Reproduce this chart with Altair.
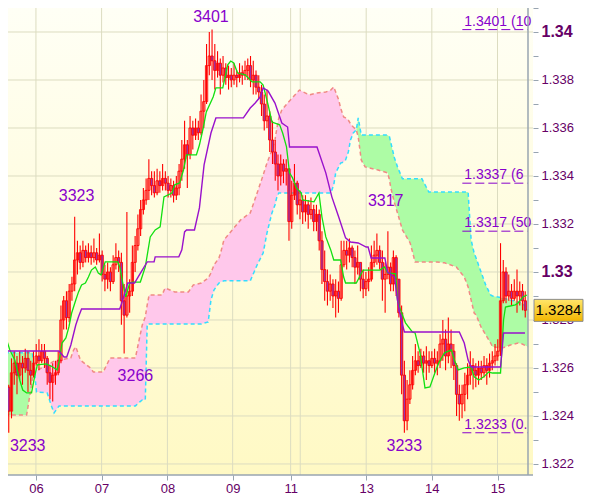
import altair as alt
import pandas as pd

# ---------------- hourly OHLC bars (bar index 0..188) ----------------
first_open = 1.3252
close = [
    1.3242, 1.3258, 1.3262, 1.3257, 1.3262, 1.3260, 1.3264, 1.3259, 1.3257, 1.3262,
    1.3265, 1.3263, 1.3267, 1.3264, 1.3258, 1.3254, 1.3257, 1.3258, 1.3263, 1.3280,
    1.3288, 1.3281, 1.3292, 1.3295, 1.3305, 1.3308, 1.3304, 1.3309, 1.3306, 1.3308,
    1.3306, 1.3308, 1.3305, 1.3307, 1.3299, 1.3297, 1.3300, 1.3296, 1.3303, 1.3306,
    1.3304, 1.3288, 1.3282, 1.3290, 1.3292, 1.3304, 1.3311, 1.3318, 1.3326, 1.3330,
    1.3334, 1.3339, 1.3336, 1.3333, 1.3338, 1.3336, 1.3339, 1.3337, 1.3334, 1.3336,
    1.3332, 1.3335, 1.3342, 1.3347, 1.3353, 1.3349, 1.3360, 1.3357, 1.3360, 1.3358,
    1.3367, 1.3371, 1.3386, 1.3390, 1.3388, 1.3384, 1.3387, 1.3382, 1.3385, 1.3381,
    1.3382, 1.3380, 1.3382, 1.3381, 1.3383, 1.3382, 1.3384, 1.3386, 1.3380, 1.3382,
    1.3377, 1.3375, 1.3370, 1.3363, 1.3365, 1.3355, 1.3350, 1.3345, 1.3340, 1.3345,
    1.3342, 1.3343, 1.3321, 1.3332, 1.3337, 1.3328, 1.3330, 1.3325, 1.3328, 1.3324,
    1.3326, 1.3321, 1.3324, 1.3313, 1.3301, 1.3296, 1.3292, 1.3295, 1.3290, 1.3292,
    1.3289, 1.3303, 1.3309, 1.3307, 1.3310, 1.3306, 1.3302, 1.3304, 1.3297, 1.3293,
    1.3296, 1.3297, 1.3304, 1.3307, 1.3309, 1.3304, 1.3297, 1.3299, 1.3302, 1.3295,
    1.3306, 1.3297, 1.3283, 1.3257, 1.3238, 1.3247, 1.3253, 1.3259, 1.3263, 1.3261,
    1.3265, 1.3262, 1.3263, 1.3261, 1.3264, 1.3262, 1.3263, 1.3270, 1.3272, 1.3265,
    1.3270, 1.3267, 1.3261, 1.3249, 1.3245, 1.3249, 1.3253, 1.3257, 1.3261, 1.3259,
    1.3257, 1.3260, 1.3258, 1.3261, 1.3259, 1.3262, 1.3263, 1.3265, 1.3267, 1.3288,
    1.3300, 1.3290, 1.3292, 1.3289, 1.3292, 1.3290, 1.3292, 1.3288, 1.3284,
]
high = [
    1.3253, 1.3264, 1.3267, 1.3265, 1.3267, 1.3265, 1.3268, 1.3267, 1.3263, 1.3267,
    1.3270, 1.3272, 1.3270, 1.3270, 1.3265, 1.3261, 1.3262, 1.3263, 1.3267, 1.3286,
    1.3290, 1.3292, 1.3295, 1.3298, 1.3323, 1.3313, 1.3311, 1.3313, 1.3311, 1.3312,
    1.3311, 1.3314, 1.3310, 1.3316, 1.3309, 1.3303, 1.3304, 1.3302, 1.3307, 1.3312,
    1.3309, 1.3308, 1.3295, 1.3325, 1.3297, 1.3311, 1.3315, 1.3324, 1.3330, 1.3335,
    1.3339, 1.3347, 1.3342, 1.3342, 1.3343, 1.3342, 1.3345, 1.3342, 1.3340, 1.3339,
    1.3338, 1.3340, 1.3345, 1.3355, 1.3363, 1.3355, 1.3365, 1.3363, 1.3364, 1.3363,
    1.3374, 1.3380, 1.3395, 1.3400, 1.3401, 1.3395, 1.3392, 1.3389, 1.3390, 1.3387,
    1.3386, 1.3385, 1.3387, 1.3384, 1.3387, 1.3386, 1.3388, 1.3389, 1.3390, 1.3388,
    1.3384, 1.3382, 1.3378, 1.3374, 1.3376, 1.3367, 1.3363, 1.3355, 1.3349, 1.3349,
    1.3347, 1.3347, 1.3342, 1.3338, 1.3345, 1.3338, 1.3334, 1.3332, 1.3332, 1.3330,
    1.3331, 1.3328, 1.3328, 1.3326, 1.3317, 1.3309, 1.3301, 1.3299, 1.3297, 1.3297,
    1.3296, 1.3313, 1.3313, 1.3313, 1.3314, 1.3311, 1.3309, 1.3311, 1.3304, 1.3301,
    1.3300, 1.3302, 1.3311, 1.3313, 1.3316, 1.3311, 1.3309, 1.3304, 1.3317, 1.3304,
    1.3309, 1.3307, 1.3295, 1.3286, 1.3263, 1.3255, 1.3259, 1.3265, 1.3270, 1.3267,
    1.3268, 1.3267, 1.3269, 1.3267, 1.3267, 1.3268, 1.3267, 1.3274, 1.3280, 1.3276,
    1.3281, 1.3276, 1.3270, 1.3262, 1.3253, 1.3253, 1.3258, 1.3262, 1.3267, 1.3264,
    1.3262, 1.3263, 1.3263, 1.3265, 1.3264, 1.3266, 1.3267, 1.3270, 1.3272, 1.3312,
    1.3305, 1.3302, 1.3299, 1.3295, 1.3297, 1.3301, 1.3296, 1.3295, 1.3292,
]
low = [
    1.3233, 1.3239, 1.3253, 1.3249, 1.3255, 1.3253, 1.3258, 1.3250, 1.3253, 1.3256,
    1.3261, 1.3259, 1.3262, 1.3260, 1.3253, 1.3247, 1.3246, 1.3253, 1.3257, 1.3262,
    1.3276, 1.3276, 1.3279, 1.3288, 1.3292, 1.3299, 1.3301, 1.3302, 1.3304, 1.3304,
    1.3303, 1.3304, 1.3303, 1.3304, 1.3296, 1.3292, 1.3293, 1.3292, 1.3295, 1.3301,
    1.3300, 1.3278, 1.3266, 1.3281, 1.3283, 1.3290, 1.3300, 1.3309, 1.3315, 1.3324,
    1.3328, 1.3330, 1.3332, 1.3331, 1.3332, 1.3333, 1.3334, 1.3334, 1.3331, 1.3331,
    1.3329, 1.3330, 1.3332, 1.3338, 1.3343, 1.3335, 1.3347, 1.3351, 1.3355, 1.3355,
    1.3357, 1.3360, 1.3370, 1.3382, 1.3380, 1.3376, 1.3381, 1.3374, 1.3379, 1.3378,
    1.3376, 1.3377, 1.3378, 1.3377, 1.3379, 1.3378, 1.3380, 1.3380, 1.3377, 1.3374,
    1.3374, 1.3372, 1.3365, 1.3359, 1.3360, 1.3350, 1.3345, 1.3338, 1.3334, 1.3336,
    1.3337, 1.3336, 1.3313, 1.3318, 1.3330, 1.3324, 1.3322, 1.3320, 1.3321, 1.3318,
    1.3322, 1.3317, 1.3317, 1.3309, 1.3295, 1.3288, 1.3286, 1.3288, 1.3285, 1.3281,
    1.3283, 1.3288, 1.3302, 1.3301, 1.3304, 1.3302, 1.3295, 1.3299, 1.3292, 1.3289,
    1.3290, 1.3292, 1.3296, 1.3302, 1.3303, 1.3301, 1.3288, 1.3283, 1.3297, 1.3292,
    1.3292, 1.3290, 1.3281, 1.3249, 1.3233, 1.3234, 1.3245, 1.3251, 1.3257, 1.3258,
    1.3260, 1.3258, 1.3255, 1.3258, 1.3260, 1.3258, 1.3257, 1.3260, 1.3263, 1.3259,
    1.3262, 1.3260, 1.3255, 1.3240, 1.3238, 1.3239, 1.3242, 1.3247, 1.3253, 1.3251,
    1.3252, 1.3253, 1.3255, 1.3256, 1.3253, 1.3256, 1.3259, 1.3261, 1.3263, 1.3265,
    1.3287, 1.3287, 1.3288, 1.3286, 1.3288, 1.3283, 1.3286, 1.3284, 1.3281,
]

# ---------------- Tenkan-sen (green) ----------------
tenkan_x = [-1.0, 0.4, 2.2, 4.0, 5.1, 6.5, 8.3, 9.4, 10.4, 13.6,
            15.4, 17.6, 18.3, 19.4, 20.8, 21.9, 22.9, 24.4, 25.4, 26.5,
            27.9, 29.0, 30.1, 31.5, 32.6, 33.6, 35.1, 39.7, 40.4, 41.5,
            42.6, 44.0, 45.1, 47.9, 49.7, 51.5, 53.3, 55.1, 56.5, 59.4,
            60.4, 62.2, 63.6, 64.7, 68.3, 69.4, 70.8, 71.9, 74.4, 75.4,
            77.9, 79.7, 80.8, 81.9, 83.3, 86.1, 87.2, 88.6, 91.5, 92.6,
            94.4, 95.8, 98.6, 99.7, 101.1, 102.2, 103.3, 104.7, 106.5, 106.9,
            111.1, 112.9, 114.0, 115.4, 117.2, 118.3, 120.8, 121.9, 122.6, 126.5,
            129.0, 135.1, 136.8, 137.9, 140.8, 141.5, 142.6, 144.4, 146.9, 147.9,
            149.7, 151.5, 153.3, 155.1, 156.5, 158.6, 161.1, 162.2, 163.6, 165.8,
            168.3, 169.4, 171.1, 172.9, 174.7, 176.1, 179.0, 180.1, 180.8, 184.4,
            185.4, 187.2, 188.6]
tenkan_y = [1.32725, 1.32675, 1.32633, 1.32550, 1.32508, 1.32496, 1.32496, 1.32563, 1.32613, 1.32617,
            1.32608, 1.32592, 1.32625, 1.32704, 1.32725, 1.32771, 1.32829, 1.32883, 1.32917, 1.32946,
            1.32954, 1.32979, 1.33008, 1.33021, 1.32996, 1.32988, 1.33042, 1.33042, 1.33021, 1.32954,
            1.32896, 1.32954, 1.32958, 1.32958, 1.33021, 1.33146, 1.33175, 1.33188, 1.33313, 1.33329,
            1.33363, 1.33371, 1.33425, 1.33488, 1.33488, 1.33529, 1.33600, 1.33667, 1.33729, 1.33767,
            1.33767, 1.33863, 1.33879, 1.33871, 1.33829, 1.33821, 1.33808, 1.33792, 1.33792, 1.33779,
            1.33696, 1.33625, 1.33613, 1.33579, 1.33521, 1.33413, 1.33392, 1.33350, 1.33329, 1.33300,
            1.33292, 1.33329, 1.33229, 1.33146, 1.33092, 1.33050, 1.33050, 1.32979, 1.32954, 1.32954,
            1.33008, 1.33008, 1.33021, 1.32996, 1.32992, 1.32883, 1.32842, 1.32788, 1.32750, 1.32746,
            1.32663, 1.32517, 1.32521, 1.32579, 1.32621, 1.32663, 1.32675, 1.32633, 1.32592, 1.32600,
            1.32604, 1.32563, 1.32550, 1.32563, 1.32583, 1.32579, 1.32579, 1.32800, 1.32854, 1.32863,
            1.32871, 1.32896, 1.32904]

# ---------------- Kijun-sen (purple) ----------------
kijun_x = [-1.0, 18.3, 20.1, 21.1, 22.6, 24.4, 25.4, 26.5,
           40.4, 41.5, 43.3, 45.8, 46.9, 48.6, 50.4, 52.9, 53.3,
           61.9, 63.0, 64.0, 64.7, 67.6, 69.4, 71.1, 73.6, 75.4,
           85.4, 87.9, 89.7, 91.5, 92.6, 94.4, 96.9, 99.4, 101.5, 102.2,
           112.2, 115.4, 117.6, 120.1, 122.6, 124.4, 127.2, 130.1, 130.8, 131.9,
           136.9, 137.9, 140.4, 141.5, 142.6, 144.0,
           164.0, 165.8, 167.2, 168.3, 179.0, 180.1, 187.9]
kijun_y = [1.32671, 1.32671, 1.32646, 1.32646, 1.32696, 1.32779, 1.32813, 1.32846,
           1.32846, 1.32883, 1.32954, 1.32954, 1.32975, 1.33008, 1.33042, 1.33042, 1.33063,
           1.33063, 1.33092, 1.33167, 1.33175, 1.33175, 1.33267, 1.33446, 1.33579, 1.33642,
           1.33642, 1.33683, 1.33704, 1.33729, 1.33767, 1.33754, 1.33704, 1.33621, 1.33604, 1.33521,
           1.33521, 1.33413, 1.33313, 1.33229, 1.33142, 1.33125, 1.33121, 1.33104, 1.33104, 1.33058,
           1.33058, 1.33000, 1.32979, 1.32883, 1.32813, 1.32750,
           1.32750, 1.32704, 1.32633, 1.32604, 1.32604, 1.32746, 1.32746]

# ---------------- Kumo: Senkou span A (cyan) and B (salmon) ----------------
cloud_x = [-1.4, 6.5, 8.3, 8.6, 9.4, 10.1, 14.0, 15.4, 16.5, 18.3,
           22.6, 23.6, 24.4, 26.1, 29.7, 30.8, 34.4, 36.9, 46.1, 47.6,
           48.6, 49.7, 50.4, 51.1, 55.8, 56.9, 60.4, 65.4, 67.2, 70.1,
           72.6, 73.6, 74.7, 76.5, 77.2, 78.3, 84.4, 87.9, 90.4, 92.6,
           94.0, 95.8, 96.9, 97.6, 98.3, 99.4, 101.5, 105.8, 109.4, 112.2,
           115.4, 117.2, 118.3, 119.0, 120.1, 120.8, 121.9, 122.6, 123.6, 124.4,
           125.4, 126.5, 127.2, 128.3, 129.7, 134.4, 137.9, 138.6, 139.0, 140.4,
           141.5, 143.3, 146.1, 147.9, 150.4, 152.9, 155.8, 158.6, 162.9, 165.8,
           167.2, 168.3, 169.4, 170.1, 171.9, 173.6, 175.4, 176.1, 179.7, 182.6,
           185.4, 186.9, 189.0]
span_a = [1.32663, 1.32663, 1.32663, 1.32663, 1.32585, 1.32500, 1.32496, 1.32446, 1.32413, 1.32442,
          1.32442, 1.32442, 1.32442, 1.32442, 1.32442, 1.32442, 1.32442, 1.32442, 1.32442, 1.32458,
          1.32467, 1.32467, 1.32783, 1.32783, 1.32783, 1.32783, 1.32783, 1.32783, 1.32783, 1.32783,
          1.32792, 1.32883, 1.32925, 1.32954, 1.32958, 1.32963, 1.32963, 1.32963, 1.33029, 1.33079,
          1.33163, 1.33246, 1.33279, 1.33313, 1.33329, 1.33329, 1.33329, 1.33329, 1.33329, 1.33329,
          1.33329, 1.33329, 1.33363, 1.33413, 1.33438, 1.33454, 1.33458, 1.33467, 1.33500, 1.33550,
          1.33579, 1.33592, 1.33642, 1.33571, 1.33571, 1.33571, 1.33571, 1.33563, 1.33542, 1.33475,
          1.33438, 1.33388, 1.33388, 1.33388, 1.33388, 1.33333, 1.33333, 1.33333, 1.33333, 1.33333,
          1.33333, 1.33133, 1.33079, 1.33058, 1.33000, 1.32946, 1.32904, 1.32900, 1.32892, 1.32883,
          1.32875, 1.32871, 1.32842]
span_b = [1.32404, 1.32404, 1.32529, 1.32558, 1.32585, 1.32588, 1.32613, 1.32621, 1.32629, 1.32633,
          1.32642, 1.32675, 1.32688, 1.32633, 1.32600, 1.32583, 1.32583, 1.32642, 1.32642, 1.32725,
          1.32779, 1.32813, 1.32863, 1.32904, 1.32904, 1.32933, 1.32917, 1.32917, 1.32946, 1.32954,
          1.32975, 1.32996, 1.33029, 1.33058, 1.33083, 1.33133, 1.33217, 1.33246, 1.33329, 1.33404,
          1.33454, 1.33508, 1.33550, 1.33600, 1.33642, 1.33675, 1.33704, 1.33758, 1.33738, 1.33746,
          1.33750, 1.33758, 1.33771, 1.33750, 1.33717, 1.33683, 1.33646, 1.33642, 1.33633, 1.33617,
          1.33604, 1.33592, 1.33563, 1.33467, 1.33438, 1.33425, 1.33413, 1.33383, 1.33354, 1.33288,
          1.33246, 1.33175, 1.33121, 1.33042, 1.33042, 1.33042, 1.33042, 1.33038, 1.33021, 1.32979,
          1.32938, 1.32883, 1.32829, 1.32821, 1.32771, 1.32738, 1.32704, 1.32688, 1.32683, 1.32696,
          1.32704, 1.32700, 1.32688]

# ---------------- axes / annotations ----------------
day_pos = [9.9, 33.8, 57.75, 81.5, 102.6, 130.1, 154.0, 177.9]
day_lab = ["06", "07", "08", "09", "11", "13", "14", "15"]
grid_x = [9.9, 33.8, 57.75, 81.5, 102.6, 106.1, 130.1, 154.0, 177.9]
grid_y = [1.322, 1.324, 1.326, 1.328, 1.330, 1.332, 1.334, 1.336, 1.338, 1.340]
y_ticks = [1.322, 1.323, 1.324, 1.325, 1.326, 1.327, 1.328, 1.329, 1.330, 1.331,
           1.332, 1.333, 1.334, 1.335, 1.336, 1.337, 1.338, 1.339, 1.340, 1.341]

label_text = ["3401", "3323", "3266", "3233", "3317", "3233"]
label_x = [73.6, 24.7, 46.1, 6.9, 137.2, 144.0]
label_y = [1.34063, 1.33317, 1.32567, 1.32275, 1.33296, 1.32275]

# Fibonacci levels; the texts are shown as far as they are visible in the plot area
fib_levels = [1.3401, 1.3337, 1.3317, 1.3233]
fib_text = ["1.3401 (10", "1.3337 (6", "1.3317 (50", "1.3233 (0."]
fib_start = 165.1
last_price = 1.3284
x_domain = [-1, 189]
y_domain = [1.32154, 1.34125]

assert len(close) == len(high) == len(low)
assert len(tenkan_x) == len(tenkan_y)
assert len(kijun_x) == len(kijun_y)
assert len(cloud_x) == len(span_a) == len(span_b)

# ---------------- frames ----------------
opens = [first_open] + close[:-1]
bars = pd.DataFrame({
    "i": list(range(len(close))),
    "open": opens,
    "close": close,
    "high": [max(h, o, c) for h, o, c in zip(high, opens, close)],
    "low": [min(l, o, c) for l, o, c in zip(low, opens, close)],
})
bars["down"] = bars["close"] < bars["open"]

rows = []
gid, prev = -1, None
for k in range(len(cloud_x) - 1):
    kind = "green" if (span_a[k] + span_a[k + 1]) > (span_b[k] + span_b[k + 1]) else "pink"
    if kind != prev:
        gid += 1
        prev = kind
        rows.append(dict(x=cloud_x[k], a=span_a[k], b=span_b[k], kind=kind, g=gid))
    rows.append(dict(x=cloud_x[k + 1], a=span_a[k + 1], b=span_b[k + 1], kind=kind, g=gid))
cloud = pd.DataFrame(rows)
spans = pd.DataFrame({"x": cloud_x, "a": span_a, "b": span_b})
tenkan = pd.DataFrame({"x": tenkan_x, "y": tenkan_y})
kijun = pd.DataFrame({"x": kijun_x, "y": kijun_y})
labels = pd.DataFrame({"x": label_x, "y": label_y, "t": label_text})
fibs = pd.DataFrame({"y": fib_levels, "t": fib_text, "x": [fib_start] * 4, "x2": [x_domain[1]] * 4})

FONT = "Liberation Sans"
FRAME = "#98A4B0"
AXC = "#660066"
PURP = "#8800CC"

xs = alt.Scale(domain=x_domain, nice=False, zero=False)
ys = alt.Scale(domain=y_domain, nice=False, zero=False)

y_is_label = "abs(datum.value*500 - round(datum.value*500)) < 0.001"
y_is_big = "abs(datum.value*100 - round(datum.value*100)) < 0.0001"
AX_X = alt.Axis(
    orient="bottom", values=day_pos, title=None, grid=False, domain=False,
    labelExpr="%s[indexof(%s, datum.value)]" % (str(day_lab), str(day_pos)),
    tickColor=FRAME, tickSize=5, labelColor=AXC, labelFont=FONT, labelFontSize=13,
    labelPadding=2, labelOverlap=False, labelFlush=False)
AX_Y = alt.Axis(
    orient="right", values=y_ticks, title=None, grid=False, domain=False,
    labelExpr="(%s) ? ((%s) ? format(datum.value, '.2f') : format(datum.value, '.3f')) : ''" % (y_is_label, y_is_big),
    tickColor=FRAME, tickSize=5, labelColor=AXC, labelFont=FONT,
    labelFontSize={"condition": {"test": y_is_big, "value": 16}, "value": 13},
    labelFontWeight={"condition": {"test": y_is_big, "value": "bold"}, "value": "normal"},
    labelPadding=3, labelOverlap=False, labelFlush=False, labelBaseline="middle")


def X(f):
    return alt.X(f, type="quantitative", scale=xs, axis=AX_X)


def Y(f, **kw):
    return alt.Y(f, type="quantitative", scale=ys, axis=AX_Y, **kw)


bg = alt.Chart(pd.DataFrame({"d": [0]})).mark_rect(
    fill=alt.Gradient(gradient="linear", x1=0, x2=0, y1=0, y2=1,
                      stops=[alt.GradientStop(color="#FFFFF6", offset=0),
                             alt.GradientStop(color="#FFF9C4", offset=1)])
).encode(x=alt.value(0), x2=alt.value("width"), y=alt.value(0), y2=alt.value("height"))

vgrid = alt.Chart(pd.DataFrame({"x": grid_x})).mark_rule(color="#DCDCC0", strokeWidth=1).encode(x=X("x"))
hgrid = alt.Chart(pd.DataFrame({"y": grid_y})).mark_rule(color="#DCDCC0", strokeWidth=1).encode(y=Y("y"))

kumo = alt.Chart(cloud).mark_area(clip=True, interpolate="linear").encode(
    x=X("x"),
    y=Y("a", stack=None),
    y2="b:Q",
    color=alt.Color("kind:N", scale=alt.Scale(domain=["green", "pink"], range=["#ADFCA5", "#FFC8EB"]), legend=None),
    detail="g:N",
)
edge_a = alt.Chart(spans).mark_line(clip=True, color="#33DDFF", strokeWidth=1.5, strokeDash=[4, 3]).encode(
    x=X("x"), y=Y("a"))
edge_b = alt.Chart(spans).mark_line(clip=True, color="#F08A84", strokeWidth=1.5, strokeDash=[4, 3]).encode(
    x=X("x"), y=Y("b"))

wicks = alt.Chart(bars).mark_rule(clip=True, color="#FF0000", strokeWidth=1.1).encode(
    x=X("i"), y=Y("low"), y2="high:Q")
bodies = alt.Chart(bars).mark_bar(clip=True, width=2.3, stroke="#FF0000", strokeWidth=0.9).encode(
    x=X("i"), y=Y("open"), y2="close:Q",
    fill=alt.condition("datum.down", alt.value("#9933AA"), alt.value("transparent")),
)

tk = alt.Chart(tenkan).mark_line(clip=True, color="#11E011", strokeWidth=1.3).encode(x=X("x"), y=Y("y"))
kj = alt.Chart(kijun).mark_line(clip=True, color="#9911CC", strokeWidth=1.4).encode(x=X("x"), y=Y("y"))

txt = alt.Chart(labels).mark_text(font=FONT, fontSize=16, color=PURP, align="center", baseline="middle").encode(
    x=X("x"), y=Y("y"), text="t:N")

fib_lines = alt.Chart(fibs).mark_rule(clip=True, color=PURP, strokeWidth=1, strokeDash=[9, 4]).encode(
    x=X("x"), x2="x2:Q", y=Y("y"))
fib_txt = alt.Chart(fibs).mark_text(clip=True, font=FONT, fontSize=14, color=PURP, align="left",
                                    baseline="bottom", dx=2, dy=-1).encode(
    x=X("x"), y=Y("y"), text="t:N")

frame_r = alt.Chart(pd.DataFrame({"v": [x_domain[1]]})).mark_rule(color=FRAME, strokeWidth=1.5).encode(x=X("v"))
frame_b = alt.Chart(pd.DataFrame({"v": [y_domain[0]]})).mark_rule(color=FRAME, strokeWidth=1.5).encode(y=Y("v"))
frame_t = alt.Chart(pd.DataFrame({"d": [0]})).mark_rule(color=FRAME, strokeWidth=1.5).encode(
    x=alt.value(0), x2=alt.value(600), y=alt.value(-0.5))

tag_df = pd.DataFrame({"p": [last_price], "t": ["%.4f" % last_price]})
tag_box = alt.Chart(tag_df).mark_rect(
    yOffset=-11, y2Offset=11, stroke="#8C8C8C", strokeWidth=1,
    fill=alt.Gradient(gradient="linear", x1=0, x2=0, y1=0, y2=1,
                      stops=[alt.GradientStop(color="#FFE66A", offset=0),
                             alt.GradientStop(color="#F2B600", offset=1)])
).encode(x=alt.value(533), x2=alt.value(582), y=Y("p"), y2="p:Q")
tag_txt = alt.Chart(tag_df).mark_text(font=FONT, fontSize=15, color="#000000", align="center",
                                      baseline="middle").encode(
    x=alt.value(557.5), y=Y("p"), text="t:N")

chart = alt.layer(
    bg, vgrid, hgrid, kumo, edge_a, edge_b, wicks, bodies, tk, kj, txt,
    fib_lines, fib_txt, frame_r, frame_b, frame_t, tag_box, tag_txt
).properties(
    width=532, height=473,
    autosize=alt.AutoSizeParams(type="none"),
    padding={"left": -7, "top": -6, "right": 55, "bottom": 22},
    background="#FFFFFF",
).configure_view(stroke=None)

chart.save("out.html", embed_options={"renderer": "svg", "actions": False})
